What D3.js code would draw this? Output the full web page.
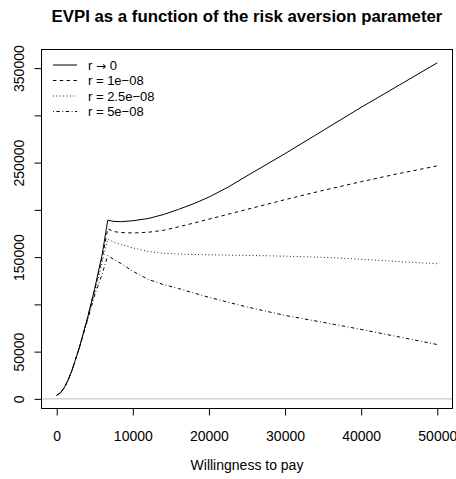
<!DOCTYPE html>
<html>
<head>
<meta charset="utf-8">
<script src="https://cdn.jsdelivr.net/npm/d3@7"></script>
<style>
  body { margin: 0; background: #fff; }
  svg { display: block; font-family: "Liberation Sans", Arial, Helvetica, sans-serif; }
</style>
</head>
<body>
<div id="chart-root"></div>
<script>
// willingness to pay grid (x values)
var wtp = [0, 500, 1000, 1500, 2000, 3000, 4000, 5000, 6000, 6700, 7500, 8500, 10000,
    12000, 14000, 16000, 18000, 20000, 22500, 25000, 30000, 35000, 40000, 45000, 50000];

// EVPI for each risk aversion value
var evpiR0 = [3900, 6500, 12000, 20000, 30000, 55000, 84000, 117000, 154000, 189000, 187800, 187500, 188500,
    190800, 195000, 200500, 206500, 213500, 224000, 236000, 259500, 284000, 308500, 332000, 355600];
var evpiR1 = [3900, 6500, 12000, 20000, 30000, 55000, 84000, 116000, 150000, 180000, 177000, 176000, 175500,
    176300, 178300, 182000, 186000, 190200, 195300, 200500, 210800, 220600, 229800, 238500, 246500];
var evpiR25 = [3900, 6500, 12000, 20000, 30000, 55000, 83500, 113000, 145000, 169000, 166000, 163200, 159800,
    156000, 154000, 153200, 152800, 152500, 152100, 151800, 151000, 149800, 147800, 145200, 143000];
var evpiR5 = [3900, 6500, 12000, 20000, 30000, 55000, 82000, 110000, 133000, 151500, 147500, 143000, 135000,
    126500, 121000, 116800, 112000, 107500, 102300, 97300, 88300, 81000, 73500, 65500, 57500];

// legend labels: [before, symbol, after]
var seriesNames = [["r ", "\u2192", " 0"], ["r = 1e\u221208", "", ""], ["r = 2.5e\u221208", "", ""], ["r = 5e\u221208", "", ""]];
var seriesDash = [null, "3.4,3.4", "0.85,2.55", "0.85,2.55,3.4,2.55"];

var xTicks = [0, 10000, 20000, 30000, 40000, 50000];
var yTicks = [0, 50000, 100000, 150000, 200000, 250000, 300000, 350000];
var yLabelled = [0, 50000, 150000, 250000, 350000];

var W = 456, H = 479;
var box = { left: 41.5, right: 452.5, top: 49.5, bottom: 408.5 };

var series = [evpiR0, evpiR1, evpiR25, evpiR5].map(function (vals, i) {
    return {
        name: seriesNames[i],
        dash: seriesDash[i],
        values: vals.map(function (v, j) { return { x: wtp[j], y: v }; })
    };
});

var svg = d3.select("#chart-root")
    .append("svg")
    .attr("width", W)
    .attr("height", H);

// R style 4% padding on both axes
function padded(ext) {
    var r = ext[1] - ext[0];
    return [ext[0] - 0.04 * r, ext[1] + 0.04 * r];
}
var allY = d3.merge([evpiR0, evpiR1, evpiR25, evpiR5]);

var x = d3.scaleLinear()
    .domain(padded(d3.extent(wtp)))
    .range([box.left, box.right]);

var y = d3.scaleLinear()
    .domain(padded(d3.extent(allY)))
    .range([box.bottom, box.top]);

// title
svg.append("text")
    .attr("x", (box.left + box.right) / 2)
    .attr("y", 22)
    .attr("text-anchor", "middle")
    .style("font-size", "16.8px")
    .style("font-weight", "bold")
    .text("EVPI as a function of the risk aversion parameter");

// zero reference line
svg.append("line")
    .attr("x1", box.left)
    .attr("x2", box.right)
    .attr("y1", y(0))
    .attr("y2", y(0))
    .attr("stroke", "#bebebe")
    .attr("stroke-width", 1);

// curves
var line = d3.line()
    .x(function (d) { return x(d.x); })
    .y(function (d) { return y(d.y); });

svg.selectAll(".evpi")
    .data(series)
    .enter().append("path")
    .attr("class", "evpi")
    .attr("d", function (d) { return line(d.values); })
    .attr("fill", "none")
    .attr("stroke", "#000")
    .attr("stroke-width", 1)
    .attr("stroke-dasharray", function (d) { return d.dash; });

// box
svg.append("rect")
    .attr("x", box.left)
    .attr("y", box.top)
    .attr("width", box.right - box.left)
    .attr("height", box.bottom - box.top)
    .attr("fill", "none")
    .attr("stroke", "#000");

// x axis
var xAxis = svg.append("g")
    .attr("transform", "translate(0," + box.bottom + ")")
    .call(d3.axisBottom(x).tickValues(xTicks).tickSize(7).tickPadding(16).tickFormat(d3.format("d")));
xAxis.select(".domain").remove();
xAxis.selectAll("text")
    .style("font-size", "14px")
    .attr("fill", "#000")
    .attr("font-family", null);

// y axis
var yAxis = svg.append("g")
    .attr("transform", "translate(" + box.left + ",0)")
    .call(d3.axisLeft(y).tickValues(yTicks).tickSize(7)
        .tickFormat(function (d) { return yLabelled.indexOf(d) >= 0 ? d3.format("d")(d) : ""; }));
yAxis.select(".domain").remove();
yAxis.selectAll("text")
    .attr("x", null)
    .attr("dy", null)
    .attr("transform", "translate(-18,0) rotate(-90)")
    .attr("text-anchor", "middle")
    .style("font-size", "14px")
    .attr("fill", "#000");

// x axis title
svg.append("text")
    .attr("x", (box.left + box.right) / 2)
    .attr("y", 470)
    .attr("text-anchor", "middle")
    .style("font-size", "14px")
    .text("Willingness to pay");

// legend
var legend = svg.append("g")
    .attr("transform", "translate(53,65)");
var item = legend.selectAll("g")
    .data(series)
    .enter().append("g")
    .attr("transform", function (d, i) { return "translate(0," + (i * 15.5) + ")"; });
item.append("line")
    .attr("x1", 0)
    .attr("x2", 24)
    .attr("stroke", "#000")
    .attr("stroke-dasharray", function (d) { return d.dash; });
var label = item.append("text")
    .attr("x", 35)
    .attr("dy", "0.35em")
    .style("font-size", "13px");
label.append("tspan").text(function (d) { return d.name[0]; });
label.append("tspan")
    .style("font-family", "'DejaVu Sans'")
    .style("font-size", "12px")
    .text(function (d) { return d.name[1]; });
label.append("tspan").text(function (d) { return d.name[2]; });
</script>
</body>
</html>
